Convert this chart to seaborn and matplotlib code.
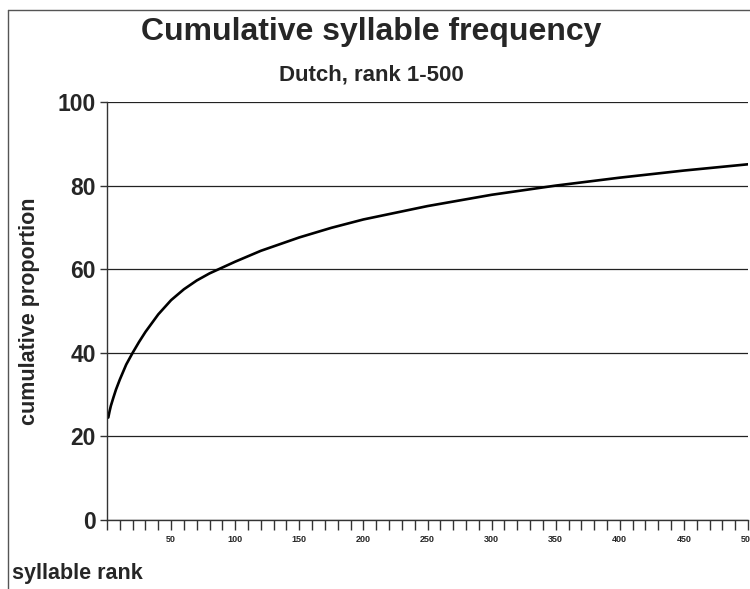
import pandas as pd
import seaborn as sns
import matplotlib.pyplot as plt
from matplotlib.lines import Line2D

# Cumulative proportion
rank = [1, 2, 3, 5, 7, 10, 15, 20, 25, 30, 40, 50, 60, 70, 80, 100, 120, 150, 175, 200,
        250, 300, 350, 400, 450, 500]
cum_prop = [24.5, 26.0, 27.3, 29.3, 31.2, 33.6, 37.2, 40.0, 42.6, 45.0, 49.2, 52.6, 55.2,
            57.3, 59.0, 61.8, 64.4, 67.6, 69.9, 71.9, 75.1, 77.8, 80.0, 81.9, 83.6, 85.1]

df = pd.DataFrame({'rank': rank, 'cum': cum_prop})

sns.set_style('white')
plt.rcParams['font.family'] = ['Liberation Sans', 'DejaVu Sans']

fig = plt.figure(figsize=(7.5, 5.89), dpi=100)
ax = fig.add_axes([107 / 750, 1 - 520 / 589, 641 / 750, 418 / 589])

# Draw the curve
sns.lineplot(data=df, x='rank', y='cum', ax=ax, color='black', linewidth=1.9)

ax.set_xlim(0, 500)
ax.set_ylim(0, 100)

# Gridlines at the major y ticks
ax.set_yticks([0, 20, 40, 60, 80, 100])
ax.yaxis.grid(True, color='#222222', linewidth=0.9)
ax.set_axisbelow(True)

ax.set_xticks(range(50, 501, 50))
ax.set_xticks(range(0, 501, 10), minor=True)
ax.tick_params(axis='x', which='both', direction='out', length=7, width=1, color='#333333',
               bottom=True, labelsize=6.5, pad=4)
ax.tick_params(axis='y', direction='out', length=5, width=1, color='#333333', left=True,
               labelsize=16.5, pad=3)
for lab in ax.get_xticklabels() + ax.get_yticklabels():
    lab.set_fontweight('bold')

for side in ['top', 'right']:
    ax.spines[side].set_visible(False)
for side in ['left', 'bottom']:
    ax.spines[side].set_color('#333333')
    ax.spines[side].set_linewidth(1)

ax.set_xlabel('')
ax.set_ylabel('cumulative proportion', fontsize=15.5, fontweight='bold')
ax.yaxis.set_label_coords(-0.105, 0.5)

fig.text(0.495, 1 - 32 / 589, 'Cumulative syllable frequency', ha='center', va='center',
         fontsize=23, fontweight='bold')
fig.text(0.495, 1 - 75 / 589, 'Dutch, rank 1-500', ha='center', va='center',
         fontsize=16, fontweight='bold')
fig.text(12 / 750, 1 - 573 / 589, 'syllable rank', ha='left', va='center',
         fontsize=15.5, fontweight='bold')

# frame of the chart area (left and top edges visible)
fig.add_artist(Line2D([8 / 750, 8 / 750], [0, 1 - 10 / 589], color='#555555', linewidth=1))
fig.add_artist(Line2D([8 / 750, 1], [1 - 10 / 589, 1 - 10 / 589], color='#555555', linewidth=1))

fig.savefig('out.png')
